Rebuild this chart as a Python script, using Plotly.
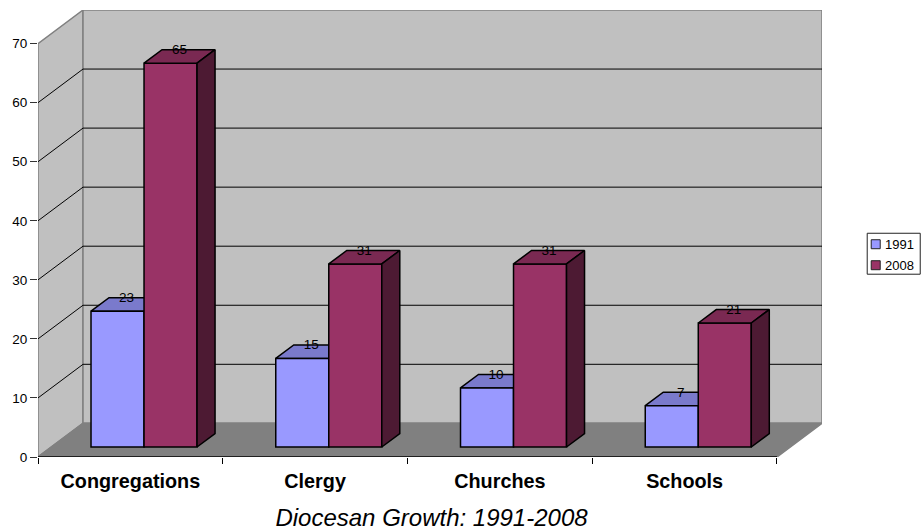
import plotly.graph_objects as go

categories = ["Congregations", "Clergy", "Churches", "Schools"]
series_names = ["1991", "2008"]
values_1991 = [23, 15, 10, 7]
values_2008 = [65, 31, 31, 21]
y_ticks = [0, 10, 20, 30, 40, 50, 60, 70]
chart_title = "Diocesan Growth: 1991-2008"

FONT = "Liberation Sans, Arial, sans-serif"
FIG_W, FIG_H = 924, 529
PX_X = 184.7   # pixels per category
PX_Y = 5.914   # pixels per value unit
N = len(categories)
M_L, M_T, M_B = 38, 9.5, 72
M_R = FIG_W - M_L - (N * PX_X + 45)
PLOT_W = FIG_W - M_L - M_R
PLOT_H = FIG_H - M_T - M_B
FLOOR_DX = 45 / PX_X
FLOOR_DY = 33.7 / PX_Y
BAR_W = 53 / PX_X
BAR_DX = 18 / PX_X
BAR_DY = 13.5 / PX_Y
LIFT = 10 / PX_Y
LABEL_DROP = 1 / PX_Y
OFF_A = 53 / PX_X
OFF_B = OFF_A + BAR_W
Y_MAX = y_ticks[-1]
idx = list(range(N))
COL_A, COL_B = "#9999FF", "#993366"


def polys(items):
    xs, ys = [], []
    for poly in items:
        for (a, b) in poly:
            xs.append(a)
            ys.append(b)
        xs.append(poly[0][0])
        ys.append(poly[0][1])
        xs.append(None)
        ys.append(None)
    return xs, ys


def fill_trace(items, fill, line, z, width=1.5):
    xs, ys = polys(items)
    return go.Scatter(x=xs, y=ys, mode="lines", fill="toself", fillcolor=fill,
                      line=dict(color=line, width=width), hoverinfo="skip",
                      showlegend=False, zorder=z, cliponaxis=False)


def top_face(i, v, off):
    x0 = i + off
    t = v + LIFT
    return [(x0, t), (x0 + BAR_W, t), (x0 + BAR_W + BAR_DX, t + BAR_DY), (x0 + BAR_DX, t + BAR_DY)]


def side_face(i, v, off):
    x1 = i + off + BAR_W
    t = v + LIFT
    return [(x1, LIFT), (x1, t), (x1 + BAR_DX, t + BAR_DY), (x1 + BAR_DX, LIFT + BAR_DY)]


def fx(px):
    return (px - M_L) / PLOT_W


def fy(px):
    return 1 - (px - M_T) / PLOT_H


fig = go.Figure()

# walls and floor
right = N + FLOOR_DX
top = Y_MAX + FLOOR_DY
fig.add_trace(fill_trace([[(0, 0), (0, Y_MAX), (FLOOR_DX, top), (FLOOR_DX, FLOOR_DY)]], "#C0C0C0", "#808080", 0))
fig.add_trace(fill_trace([[(FLOOR_DX, FLOOR_DY), (FLOOR_DX, top), (right, top), (right, FLOOR_DY)]], "#C0C0C0", "#808080", 0))
fig.add_trace(fill_trace([[(0, 0), (N, 0), (right, FLOOR_DY), (FLOOR_DX, FLOOR_DY)]], "#808080", "#808080", 0))

# gridlines
gx, gy = [], []
for t in y_ticks[1:-1]:
    gx += [0, FLOOR_DX, right, None]
    gy += [t, t + FLOOR_DY, t + FLOOR_DY, None]
fig.add_trace(go.Scatter(x=gx, y=gy, mode="lines", line=dict(color="#000000", width=1),
                         hoverinfo="skip", showlegend=False, zorder=0))

# front axis line
fig.add_trace(go.Scatter(x=[0, N], y=[0, 0], mode="lines", line=dict(color="#000000", width=1.5),
                         hoverinfo="skip", showlegend=False, zorder=0, cliponaxis=False))

# 3-D faces
fig.add_trace(fill_trace([top_face(i, v, OFF_A) for i, v in enumerate(values_1991)], "#7A7ACC", "#000000", 1))
fig.add_trace(go.Bar(name=series_names[0], x=idx, y=values_1991, base=LIFT, width=BAR_W, offset=OFF_A,
                     marker=dict(color=COL_A, line=dict(color="#000000", width=1.5)), zorder=2,
                     showlegend=False))
fig.add_trace(go.Bar(name=series_names[1], x=idx, y=values_2008, base=LIFT, width=BAR_W, offset=OFF_B,
                     marker=dict(color=COL_B, line=dict(color="#000000", width=1.5)), zorder=2,
                     showlegend=False))
fig.add_trace(fill_trace([top_face(i, v, OFF_B) for i, v in enumerate(values_2008)], "#7A2952", "#000000", 3))
fig.add_trace(fill_trace([side_face(i, v, OFF_B) for i, v in enumerate(values_2008)], "#4D1A33", "#000000", 3))

# data labels
for vals, off in ((values_1991, OFF_A), (values_2008, OFF_B)):
    fig.add_trace(go.Scatter(
        x=[i + off + BAR_W / 2 + BAR_DX / 2 for i in idx],
        y=[v + LIFT + BAR_DY - LABEL_DROP for v in vals],
        mode="text", text=[str(v) for v in vals], textposition="middle center",
        textfont=dict(family=FONT, size=13.5, color="#000000"),
        hoverinfo="skip", showlegend=False, zorder=4, cliponaxis=False))

# compact legend (Plotly's own legend cannot be this narrow)
shapes = [dict(type="rect", xref="paper", yref="paper", x0=fx(867), x1=fx(920), y0=fy(233), y1=fy(274),
               line=dict(color="#222222", width=1), fillcolor="#FFFFFF")]
annotations = []
for name, col, cy in zip(series_names, (COL_A, COL_B), (244, 265)):
    shapes.append(dict(type="rect", xref="paper", yref="paper", x0=fx(871), x1=fx(880),
                       y0=fy(cy - 4.5), y1=fy(cy + 4.5), fillcolor=col,
                       line=dict(color="#222222", width=1)))
    annotations.append(dict(text=name, xref="paper", yref="paper", x=fx(883.5), y=fy(cy),
                            xanchor="left", yanchor="middle", showarrow=False, borderpad=0,
                            font=dict(family=FONT, size=13, color="#000000")))

fig.update_layout(
    width=FIG_W, height=FIG_H, autosize=False,
    margin=dict(l=M_L, r=M_R, t=M_T, b=M_B),
    paper_bgcolor="#FFFFFF", plot_bgcolor="#FFFFFF",
    barmode="overlay", showlegend=False, shapes=shapes, annotations=annotations,
    font=dict(family=FONT, color="#000000"),
    title=dict(text="<i>" + chart_title + "</i>", x=431.5 / FIG_W, xanchor="center",
               y=1 - 518 / FIG_H, yanchor="middle", font=dict(family=FONT, size=24)),
    xaxis=dict(range=[0, right], showgrid=False, zeroline=False, showline=False,
               tickmode="array", tickvals=[i + 0.5 for i in idx], ticktext=categories,
               ticks="", ticklabelstandoff=10,
               tickfont=dict(family=FONT, size=19.8, color="#000000", weight="bold"),
               minor=dict(tickmode="array", tickvals=list(range(N + 1)), ticks="outside",
                          ticklen=6, tickwidth=1, tickcolor="#000000", showgrid=False)),
    yaxis=dict(range=[0, top], showgrid=False, zeroline=False, showline=False,
               tickmode="array", tickvals=y_ticks, ticks="outside", ticklen=7, tickwidth=1,
               tickcolor="#333333", tickfont=dict(family=FONT, size=13.5, color="#000000")),
)

fig.write_html("out.html", config={"displayModeBar": False},
               post_script="document.body.style.margin='0';")
